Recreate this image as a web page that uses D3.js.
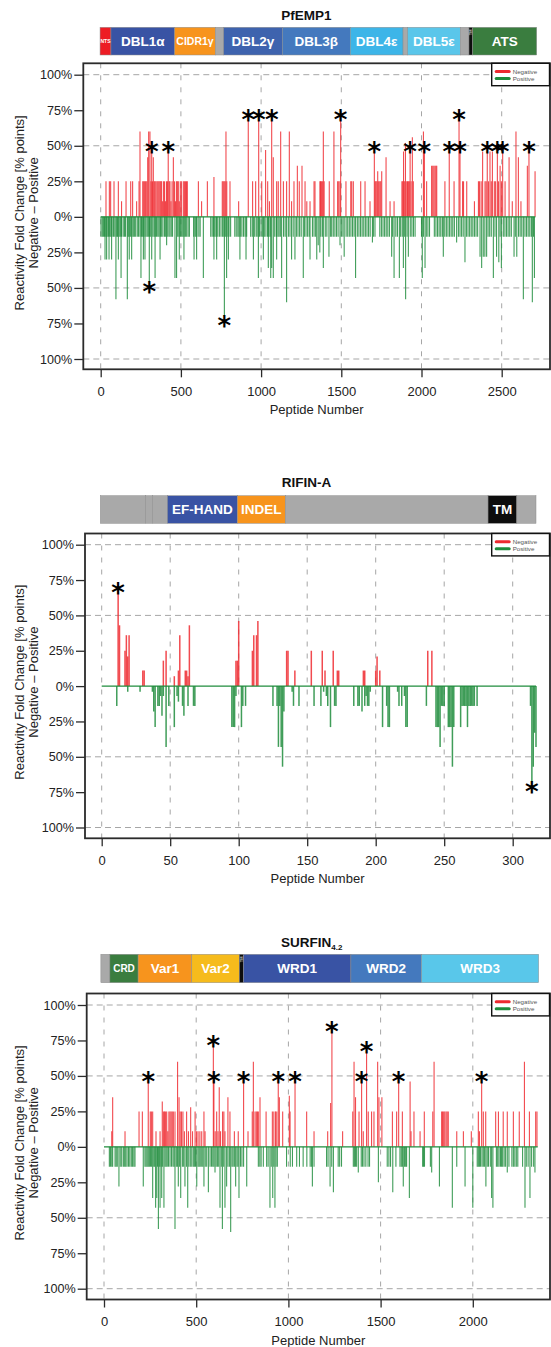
<!DOCTYPE html>
<html>
<head>
<meta charset="utf-8">
<script src="https://cdn.jsdelivr.net/npm/d3@7"></script>
<style>
  body { margin: 0; background: #fff; }
  svg { display: block; font-family: "Liberation Sans", Arial, sans-serif; }
</style>
</head>
<body>
<svg id="chart" width="551" height="1347"></svg>
<script>
// ---- data: [peptide, % points] ----
const pfNeg = [[33,25],[54,25],[62,25],[83,25],[110,25],[130,11],[158,25],[187,25],[199,25],[224,11],[239,25],[245,60],[262,25],[268,25],[274,25],[280,25],[287,25],[293,42],[299,60],[307,60],[313,25],[318,50],[323,25],[328,42],[334,25],[339,25],[345,25],[352,25],[358,25],[364,25],[370,25],[375,25],[380,25],[386,11],[392,25],[398,25],[404,11],[410,25],[416,25],[421,50],[427,25],[432,25],[438,11],[445,25],[453,42],[460,25],[466,11],[472,25],[478,25],[484,25],[490,11],[496,25],[503,25],[515,25],[522,25],[529,25],[535,25],[540,25],[609,25],[629,11],[665,25],[706,28],[758,25],[764,25],[770,25],[776,25],[781,60],[786,25],[806,25],[860,11],[920,72],[947,25],[966,25],[985,72],[1004,25],[1028,47],[1041,25],[1052,11],[1066,72],[1076,42],[1097,25],[1107,25],[1122,60],[1139,25],[1159,25],[1176,60],[1190,11],[1205,25],[1226,36],[1238,25],[1255,36],[1274,25],[1285,11],[1305,11],[1330,25],[1336,25],[1367,25],[1370,25],[1376,25],[1382,25],[1388,60],[1393,25],[1425,25],[1454,60],[1477,25],[1484,25],[1492,25],[1496,72],[1529,25],[1559,25],[1565,25],[1575,25],[1621,25],[1648,25],[1679,11],[1706,50],[1711,25],[1716,25],[1722,25],[1727,32],[1733,25],[1740,25],[1746,25],[1752,32],[1779,42],[1804,11],[1829,11],[1878,25],[1883,25],[1888,46],[1893,25],[1900,52],[1908,25],[1913,25],[1918,25],[1924,25],[1929,50],[1935,25],[1943,56],[1949,25],[2012,60],[2018,50],[2032,25],[2063,36],[2070,36],[2077,36],[2084,36],[2090,36],[2095,36],[2146,25],[2173,50],[2203,25],[2234,72],[2240,50],[2256,25],[2262,25],[2282,25],[2330,11],[2355,25],[2362,25],[2372,25],[2381,46],[2396,25],[2403,25],[2410,50],[2418,25],[2427,46],[2435,25],[2442,46],[2454,25],[2462,25],[2473,50],[2480,25],[2490,36],[2498,25],[2506,50],[2521,25],[2546,42],[2566,11],[2589,60],[2604,42],[2620,11],[2660,36],[2670,50],[2708,32]];

const pfPos = [[2,14],[10,14],[17,14],[24,14],[27,30],[32,14],[37,30],[40,14],[48,14],[52,30],[56,14],[63,14],[68,30],[71,14],[80,14],[88,14],[95,58],[100,14],[105,14],[110,30],[115,14],[122,14],[127,43],[130,14],[140,14],[148,14],[155,14],[166,58],[170,14],[176,14],[178,30],[185,14],[193,30],[195,14],[203,14],[210,14],[218,14],[228,14],[236,14],[245,14],[251,43],[255,14],[262,14],[266,30],[270,14],[276,30],[282,14],[290,14],[297,14],[303,46],[305,14],[312,14],[318,30],[325,14],[333,14],[339,43],[340,14],[348,14],[356,14],[363,14],[370,30],[372,14],[380,14],[388,14],[398,14],[405,14],[411,20],[415,14],[425,14],[432,14],[440,14],[448,14],[463,43],[473,43],[480,14],[488,14],[490,30],[497,14],[505,14],[512,14],[519,30],[520,14],[528,14],[536,14],[545,14],[553,14],[580,14],[582,30],[590,14],[598,30],[600,14],[612,14],[620,14],[640,43],[686,14],[695,14],[704,14],[706,30],[712,14],[720,14],[723,30],[730,14],[740,14],[750,14],[760,14],[768,14],[771,70],[777,14],[785,43],[788,14],[796,30],[800,14],[810,14],[836,14],[845,14],[855,14],[862,14],[868,30],[870,14],[880,14],[890,14],[900,14],[906,30],[910,14],[935,14],[945,14],[952,30],[960,14],[970,14],[980,14],[983,43],[990,14],[1000,14],[1010,14],[1014,30],[1020,14],[1030,14],[1040,14],[1045,36],[1048,14],[1056,14],[1060,43],[1066,36],[1076,43],[1085,14],[1095,14],[1097,30],[1105,14],[1112,14],[1120,14],[1128,43],[1140,14],[1150,14],[1159,60],[1170,14],[1180,14],[1190,30],[1200,14],[1211,30],[1220,14],[1230,14],[1240,14],[1250,14],[1263,43],[1270,14],[1280,14],[1290,14],[1300,14],[1305,30],[1320,14],[1330,14],[1340,14],[1347,30],[1356,20],[1366,25],[1372,14],[1382,14],[1388,36],[1400,14],[1410,14],[1423,28],[1432,14],[1440,14],[1450,14],[1460,14],[1470,14],[1480,14],[1492,20],[1500,14],[1510,14],[1518,28],[1530,14],[1540,14],[1550,14],[1560,14],[1570,14],[1580,14],[1589,43],[1600,14],[1610,14],[1620,14],[1630,14],[1640,14],[1650,14],[1660,14],[1670,14],[1680,14],[1694,18],[1700,14],[1710,14],[1740,14],[1750,14],[1760,14],[1770,14],[1780,14],[1790,14],[1800,14],[1814,28],[1820,14],[1829,43],[1840,14],[1850,14],[1862,43],[1870,14],[1880,14],[1887,36],[1895,14],[1901,58],[1910,14],[1918,28],[1930,14],[1940,14],[1950,14],[1960,14],[2000,14],[2005,43],[2012,14],[2022,36],[2030,14],[2040,14],[2050,14],[2080,14],[2090,14],[2100,14],[2110,14],[2120,14],[2130,14],[2136,28],[2145,14],[2155,14],[2165,14],[2175,14],[2185,14],[2195,14],[2205,14],[2219,18],[2230,14],[2240,14],[2250,14],[2260,14],[2271,32],[2280,14],[2290,14],[2300,14],[2310,14],[2320,14],[2330,14],[2340,14],[2350,14],[2365,28],[2375,36],[2385,28],[2395,28],[2406,28],[2415,14],[2425,14],[2435,14],[2448,43],[2458,14],[2468,28],[2482,32],[2490,14],[2498,36],[2510,14],[2520,14],[2530,14],[2540,14],[2550,14],[2560,14],[2577,28],[2585,14],[2594,28],[2605,14],[2615,14],[2625,14],[2635,58],[2645,14],[2655,14],[2665,14],[2675,14],[2685,14],[2691,60],[2698,14],[2704,43]];

const pfNegStars = [318, 421, 920, 985, 1066, 1496, 1706, 1929, 2018, 2173, 2234, 2240, 2410, 2473, 2506, 2670];
const pfPosStars = [303, 771];

const rifNeg = [[12,70],[13,43],[17,25],[18,36],[19,21],[20,36],[30,11],[31,11],[45,18],[47,25],[53,7],[56,11],[57,36],[61,11],[62,11],[63,7],[64,43],[98,18],[99,18],[100,46],[110,25],[111,36],[113,36],[114,46],[135,25],[136,25],[141,11],[153,25],[161,25],[163,11],[169,25],[172,11],[173,11],[191,11],[192,11],[200,11],[201,21],[203,11],[238,25],[241,25]];

const rifPos = [[11,14],[19,4],[28,4],[37,4],[38,18],[39,29],[41,14],[42,14],[43,7],[44,21],[45,7],[47,43],[49,14],[53,29],[55,7],[56,11],[59,14],[60,21],[63,14],[67,14],[68,14],[95,29],[96,29],[97,29],[98,7],[102,29],[103,14],[105,14],[125,14],[128,14],[129,43],[130,14],[131,43],[132,57],[133,18],[139,4],[140,14],[144,14],[155,14],[160,14],[162,4],[164,7],[165,14],[167,29],[170,14],[171,14],[184,14],[187,14],[188,14],[190,18],[192,14],[193,7],[194,14],[195,14],[196,4],[205,29],[208,14],[209,29],[210,29],[216,4],[217,14],[219,14],[221,7],[222,29],[223,29],[237,14],[244,29],[245,29],[246,29],[247,43],[248,14],[249,14],[250,14],[253,29],[254,29],[255,29],[256,57],[257,29],[262,29],[263,14],[264,14],[265,14],[266,14],[267,29],[268,14],[269,14],[270,14],[271,14],[272,14],[274,14],[313,14],[314,68],[315,57],[316,33],[317,43]];

const rifNegStars = [12];
const rifPosStars = [314];

const surNeg = [[42,11],[47,35],[114,11],[190,25],[208,25],[240,50],[251,25],[257,25],[264,25],[282,11],[304,11],[316,32],[322,25],[328,25],[334,25],[340,25],[346,11],[352,25],[358,25],[364,25],[370,25],[376,25],[385,25],[399,60],[407,35],[413,25],[420,25],[428,25],[436,11],[448,25],[458,11],[470,28],[480,11],[494,25],[502,11],[510,11],[520,11],[530,11],[542,25],[548,11],[593,75],[596,50],[603,11],[611,25],[618,11],[625,42],[632,11],[643,25],[650,25],[656,11],[672,35],[683,25],[707,11],[728,11],[757,50],[781,11],[804,25],[810,60],[819,25],[826,25],[832,25],[837,25],[846,35],[879,25],[913,25],[921,25],[930,25],[937,25],[945,50],[951,35],[969,25],[1005,36],[1009,25],[1036,50],[1099,25],[1139,11],[1213,11],[1229,31],[1236,85],[1294,11],[1349,25],[1356,60],[1364,35],[1383,25],[1397,50],[1406,11],[1424,71],[1433,25],[1451,25],[1464,25],[1484,60],[1491,35],[1507,35],[1564,25],[1587,25],[1598,50],[1618,25],[1660,46],[1665,11],[1681,25],[1714,11],[1737,25],[1783,25],[1790,60],[1831,25],[1836,25],[1842,25],[1848,25],[1855,25],[1861,25],[1867,25],[1913,11],[1949,11],[1992,11],[2030,25],[2036,11],[2048,50],[2057,25],[2070,25],[2124,25],[2139,25],[2165,25],[2187,25],[2220,25],[2252,25],[2280,60],[2307,25],[2341,25],[2348,25]];

const surPos = [[29,14],[35,14],[42,14],[47,14],[60,14],[66,14],[72,14],[81,28],[88,14],[96,14],[105,14],[112,14],[118,14],[125,14],[133,14],[140,14],[148,14],[155,14],[162,14],[168,14],[213,28],[222,14],[228,14],[234,14],[240,14],[246,14],[252,14],[258,14],[264,36],[270,14],[275,14],[280,43],[286,36],[290,14],[295,58],[300,14],[304,43],[309,14],[313,36],[318,14],[325,43],[331,14],[337,14],[343,14],[350,14],[358,14],[366,14],[374,14],[380,14],[385,58],[392,14],[398,14],[403,28],[410,14],[416,36],[425,14],[432,14],[439,28],[447,14],[454,43],[460,14],[468,14],[476,14],[484,14],[490,14],[496,14],[503,28],[510,14],[516,14],[522,14],[530,14],[536,14],[542,28],[549,14],[557,14],[566,32],[575,14],[583,14],[590,14],[596,14],[602,18],[608,14],[615,14],[622,14],[629,43],[636,14],[642,58],[649,14],[656,43],[665,28],[672,14],[680,14],[687,60],[694,14],[700,14],[707,14],[714,28],[721,14],[727,14],[732,36],[740,14],[748,14],[757,14],[774,28],[837,14],[845,14],[852,14],[864,14],[882,14],[890,14],[900,43],[907,14],[915,36],[921,14],[927,43],[933,14],[940,14],[990,14],[1010,14],[1022,14],[1045,14],[1060,14],[1080,14],[1100,14],[1118,14],[1126,14],[1130,28],[1139,14],[1207,14],[1215,14],[1226,28],[1235,14],[1244,32],[1270,14],[1278,14],[1288,14],[1352,14],[1358,14],[1364,14],[1370,14],[1379,18],[1395,14],[1402,14],[1410,14],[1420,14],[1432,14],[1440,14],[1488,25],[1536,14],[1545,14],[1554,14],[1566,32],[1583,14],[1605,14],[1612,14],[1618,14],[1623,28],[1630,14],[1636,14],[1641,14],[1656,36],[1728,14],[1733,14],[1738,14],[1770,14],[1777,18],[1819,28],[1889,43],[1913,14],[1958,28],[2000,43],[2024,14],[2030,14],[2036,14],[2042,14],[2050,14],[2057,14],[2064,14],[2071,28],[2078,14],[2085,14],[2095,14],[2102,36],[2109,43],[2128,14],[2135,14],[2142,14],[2150,14],[2156,14],[2162,14],[2170,14],[2178,14],[2187,18],[2196,14],[2212,14],[2220,14],[2228,14],[2236,14],[2244,14],[2270,14],[2283,43],[2290,14],[2300,14],[2310,36],[2319,14],[2330,14],[2337,18]];

const surNegStars = [240, 593, 596, 757, 945, 1036, 1236, 1397, 1424, 1598, 2048];
const surPosStars = [];

const pfTicks = [0, 500, 1000, 1500, 2000, 2500];
const rifTicks = [0, 50, 100, 150, 200, 250, 300];
const surTicks = [0, 500, 1000, 1500, 2000];
const yTicks = [100, 75, 50, 25, 0, -25, -50, -75, -100];
const yGrid = [100, 50, -50, -100];

// domain architecture: edges in peptide units, one name per segment ('' = unannotated)
const pfDomEdges = [-4, 64, 461, 715, 767, 1132, 1556, 1885, 1913, 2242, 2296, 2319, 2718];
const pfDomNames = ['NTS', 'DBL1α', 'CIDR1γ', '', 'DBL2γ', 'DBL3β', 'DBL4ε', '', 'DBL5ε', '', 'TM', 'ATS'];
const rifDomEdges = [-1, 32, 37, 48, 99, 134, 282, 303, 317];
const rifDomNames = ['', '', '', 'EF-HAND', 'INDEL', '', 'TM', ''];
const surDomEdges = [-17, 32, 185, 476, 734, 756, 1339, 1722, 2357];
const surDomNames = ['', 'CRD', 'Var1', 'Var2', 'TM', 'WRD1', 'WRD2', 'WRD3'];

// ---- styles ----
const RED = '#ee2a30';
const GREEN = '#1f8c3c';
const domColor = {
  '': '#a9a9a9', 'NTS': '#ed1c24', 'DBL1α': '#3953a4', 'CIDR1γ': '#f7941d',
  'DBL2γ': '#3e63ae', 'DBL3β': '#4479be', 'DBL4ε': '#3db5e8', 'DBL5ε': '#5ac6ea',
  'TM': '#0d0d0d', 'ATS': '#3a7d3f', 'EF-HAND': '#3953a4', 'INDEL': '#f7941d',
  'CRD': '#3a7d3f', 'Var1': '#f7941d', 'Var2': '#f6bb1c', 'WRD1': '#3953a4',
  'WRD2': '#4479be', 'WRD3': '#59c7ea'
};
const domFont = { 'NTS': 5, 'CIDR1γ': 10.5, 'CRD': 10 };

const panels = [
  {
    title: 'PfEMP1', sub: null, titleX: 306.5, titleY: 19.5, barTop: 27.3, barH: 27.7,
    box: { l: 83.3, t: 63.3, r: 550, b: 369.3 }, yPx: [74.7, 359],
    xRef: [0, 2500], xPx: [100.7, 501.7], zeroEnd: 2710, bw: 1.1,
    ticks: pfTicks, neg: pfNeg, pos: pfPos, negStars: pfNegStars, posStars: pfPosStars,
    edges: pfDomEdges, names: pfDomNames
  },
  {
    title: 'RIFIN-A', sub: null, titleX: 306.5, titleY: 487.3, barTop: 495.7, barH: 27.6,
    box: { l: 85, t: 533.5, r: 550, b: 838.3 }, yPx: [544.7, 827.5],
    xRef: [0, 300], xPx: [101.7, 512.7], zeroEnd: 317, bw: 1.5,
    ticks: rifTicks, neg: rifNeg, pos: rifPos, negStars: rifNegStars, posStars: rifPosStars,
    edges: rifDomEdges, names: rifDomNames
  },
  {
    title: 'SURFIN', sub: '4.2', titleX: 281, titleY: 947, barTop: 954.3, barH: 28.4,
    box: { l: 86.7, t: 993.5, r: 550, b: 1299.5 }, yPx: [1005, 1288.7],
    xRef: [0, 2000], xPx: [104, 472.8], zeroEnd: 2352, bw: 1.1,
    ticks: surTicks, neg: surNeg, pos: surPos, negStars: surNegStars, posStars: surPosStars,
    edges: surDomEdges, names: surDomNames
  }
];

const svg = d3.select('#chart');

panels.forEach((p) => {
  const g = svg.append('g');
  const x = d3.scaleLinear().domain(p.xRef).range(p.xPx);
  const y = d3.scaleLinear().domain([100, -100]).range(p.yPx);
  const b = p.box;

  // title
  const title = g.append('text')
    .attr('x', p.titleX).attr('y', p.titleY)
    .attr('text-anchor', p.sub ? 'start' : 'middle')
    .attr('font-size', 13.5).attr('font-weight', 'bold').attr('fill', '#111')
    .text(p.title);
  if (p.sub) {
    title.append('tspan').attr('font-size', 8).attr('dy', 2.5).text(p.sub);
  }

  // domain bar
  const segs = p.names.map((name, i) => ({ name, x0: p.edges[i], x1: p.edges[i + 1] }));
  const bar = g.append('g');
  bar.selectAll('rect')
    .data(segs)
    .join('rect')
    .attr('x', (d) => x(d.x0))
    .attr('y', p.barTop)
    .attr('width', (d) => x(d.x1) - x(d.x0))
    .attr('height', p.barH)
    .attr('fill', (d) => domColor[d.name])
    .attr('stroke', '#8c8c8c')
    .attr('stroke-width', 0.5);

  bar.selectAll('text')
    .data(segs.filter((d) => d.name))
    .join('text')
    .each(function (d) {
      const w = x(d.x1) - x(d.x0);
      const cx = (x(d.x0) + x(d.x1)) / 2;
      const cy = p.barTop + p.barH / 2;
      const t = d3.select(this).text(d.name).attr('font-weight', 'bold').attr('text-anchor', 'middle');
      if (w < 10) {
        t.attr('font-size', 4).attr('fill', '#cfcfcf')
          .attr('transform', `translate(${cx + 1.3}, ${p.barTop + 5}) rotate(-90)`);
      } else {
        const fs = domFont[d.name] || 13.5;
        t.attr('font-size', fs).attr('fill', '#fff')
          .attr('x', cx).attr('y', cy + fs * 0.36);
      }
    });

  // grid
  g.append('g').selectAll('line')
    .data(yGrid)
    .join('line')
    .attr('x1', b.l).attr('x2', b.r)
    .attr('y1', (d) => y(d)).attr('y2', (d) => y(d))
    .attr('stroke', '#a6a6a6').attr('stroke-width', 1).attr('stroke-dasharray', '6,4');

  g.append('g').selectAll('line')
    .data(p.ticks)
    .join('line')
    .attr('x1', (d) => x(d)).attr('x2', (d) => x(d))
    .attr('y1', b.t).attr('y2', b.b)
    .attr('stroke', '#a6a6a6').attr('stroke-width', 1).attr('stroke-dasharray', '5,7');

  // bars
  g.append('g').selectAll('line')
    .data(p.pos)
    .join('line')
    .attr('x1', (d) => x(d[0])).attr('x2', (d) => x(d[0]))
    .attr('y1', y(0)).attr('y2', (d) => y(-d[1]))
    .attr('stroke', GREEN).attr('stroke-opacity', 0.85).attr('stroke-width', p.bw);

  g.append('g').selectAll('line')
    .data(p.neg)
    .join('line')
    .attr('x1', (d) => x(d[0])).attr('x2', (d) => x(d[0]))
    .attr('y1', y(0)).attr('y2', (d) => y(d[1]))
    .attr('stroke', RED).attr('stroke-opacity', 0.85).attr('stroke-width', p.bw);

  // zero baseline
  g.append('line')
    .attr('x1', x(0)).attr('x2', x(p.zeroEnd))
    .attr('y1', y(0)).attr('y2', y(0))
    .attr('stroke', GREEN).attr('stroke-width', 1.2);

  // significance stars
  const peak = (arr, pep) => d3.max(arr.filter((d) => d[0] === pep), (d) => d[1]);
  const starFs = 26;
  const stars = p.negStars.map((pep) => ({ pep, cy: y(peak(p.neg, pep)) }))
    .concat(p.posStars.map((pep) => ({ pep, cy: y(-peak(p.pos, pep)) + 4 })));
  g.append('g').selectAll('text')
    .data(stars)
    .join('text')
    .attr('x', (d) => x(d.pep))
    .attr('y', (d) => d.cy + starFs * 0.57)
    .attr('text-anchor', 'middle')
    .attr('font-family', '"DejaVu Sans", sans-serif')
    .attr('font-weight', 'bold')
    .attr('font-size', starFs)
    .attr('fill', '#000')
    .text('*');

  // frame
  g.append('rect')
    .attr('x', b.l).attr('y', b.t)
    .attr('width', b.r - b.l).attr('height', b.b - b.t)
    .attr('fill', 'none').attr('stroke', '#2b2b2b').attr('stroke-width', 1.8);

  // y axis
  const yAxis = g.append('g').attr('transform', `translate(${b.l},0)`)
    .call(d3.axisLeft(y).tickValues(yTicks).tickSize(9).tickPadding(2)
      .tickFormat((d) => Math.abs(d) + '%'));
  yAxis.select('.domain').remove();
  yAxis.selectAll('line').attr('stroke', '#2b2b2b').attr('stroke-width', 1.3);
  yAxis.selectAll('text').attr('font-size', 12.6).attr('fill', '#222')
    .attr('font-family', '"Liberation Sans", Arial, sans-serif');

  // x axis
  const xAxis = g.append('g').attr('transform', `translate(0,${b.b})`)
    .call(d3.axisBottom(x).tickValues(p.ticks).tickSize(8).tickPadding(9.5)
      .tickFormat(d3.format('d')));
  xAxis.select('.domain').remove();
  xAxis.selectAll('line').attr('stroke', '#2b2b2b').attr('stroke-width', 1.3);
  xAxis.selectAll('text').attr('font-size', 13).attr('fill', '#222')
    .attr('font-family', '"Liberation Sans", Arial, sans-serif');

  g.append('text')
    .attr('x', (b.l + b.r) / 2).attr('y', b.b + 45)
    .attr('text-anchor', 'middle').attr('font-size', 13).attr('fill', '#222')
    .text('Peptide Number');

  const yc = y(0) - 4;
  g.append('text')
    .attr('transform', `translate(24,${yc}) rotate(-90)`)
    .attr('text-anchor', 'middle').attr('font-size', 13).attr('fill', '#222')
    .text('Reactivity Fold Change [% points]');
  g.append('text')
    .attr('transform', `translate(37.5,${yc}) rotate(-90)`)
    .attr('text-anchor', 'middle').attr('font-size', 13).attr('fill', '#222')
    .text('Negative – Positive');

  // legend
  const lg = g.append('g').attr('transform', `translate(491.7,${b.t})`);
  lg.append('rect').attr('width', 57.8).attr('height', 22.4)
    .attr('fill', '#fff').attr('stroke', '#111').attr('stroke-width', 1.4);
  [['Negative', RED], ['Positive', GREEN]].forEach(([label, c], i) => {
    const ly = 8.3 + i * 7;
    lg.append('line').attr('x1', 4.5).attr('x2', 17.5).attr('y1', ly).attr('y2', ly)
      .attr('stroke', c).attr('stroke-width', 3).attr('stroke-linecap', 'round');
    lg.append('text').attr('x', 21).attr('y', ly + 2.2)
      .attr('font-size', 6.2).attr('fill', '#555').text(label);
  });
});
</script>
</body>
</html>
